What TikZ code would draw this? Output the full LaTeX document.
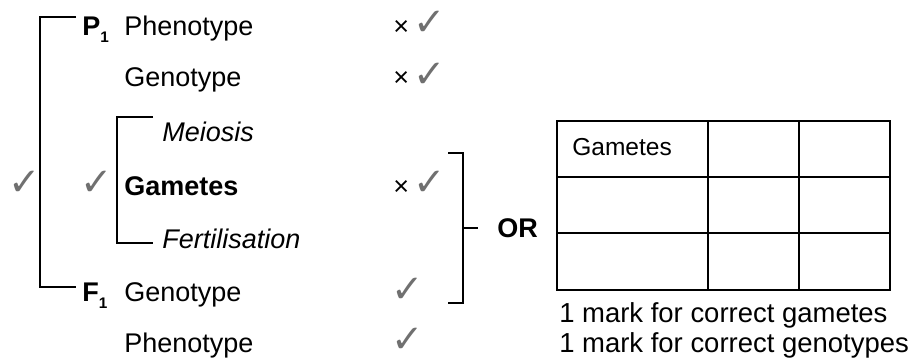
\documentclass[tikz,border=0pt]{standalone}
\usepackage{fontspec}
\setmainfont{Liberation Sans}
\newfontfamily\symfont{DejaVu Sans}
\definecolor{tickgray}{HTML}{707070}

\begin{document}
\begin{tikzpicture}[x=0.75pt,y=-0.75pt,
  lbl/.style={anchor=base west,inner sep=0pt,font=\fontsize{20.25}{24}\selectfont},
  tick/.style={anchor=base west,inner sep=0pt,text=tickgray,font=\symfont\fontsize{29}{32}\selectfont},
  cross/.style={anchor=base west,inner sep=0pt,font=\fontsize{20.25}{24}\selectfont},
  brk/.style={line width=0.9pt}]
\useasboundingbox (0,0) rectangle (917,360);
% generations and stages
\node[lbl] (p1) at (82,36) {\bfseries P\raisebox{-5.25pt}{\fontsize{11.5}{12}\selectfont 1}};
\node[lbl] (pphen) at (124,36) {Phenotype};
\node[lbl] (pgen) at (124,87) {Genotype};
\node[lbl] (meio) at (162,142) {\itshape Meiosis};
\node[lbl] (gam) at (124,195) {\bfseries Gametes};
\node[lbl] (fert) at (162,248) {\itshape Fertilisation};
\node[lbl] (f1) at (82,301) {\bfseries F\raisebox{-5.25pt}{\fontsize{11.5}{12}\selectfont 1}};
\node[lbl] (fgen) at (124,301) {Genotype};
\node[lbl] (fphen) at (124,352) {Phenotype};
% marks
\node[cross] (x1) at (393,36) {×};
\node[tick] (t1) at (413,36) {✓};
\node[cross] (x2) at (393,87) {×};
\node[tick] (t2) at (413,88) {✓};
\node[cross] (x3) at (393,195) {×};
\node[tick] (t3) at (413,195) {✓};
\node[tick] (t4) at (391,302) {✓};
\node[tick] (t5) at (391,352) {✓};
\node[tick] (tl) at (8,195) {✓};
\node[tick] (tm) at (80,195) {✓};
% brackets
\coordinate (oa) at (76,17);
\coordinate (ob) at (76,287);
\draw[brk] (oa) -- (40,17) -- (40,287) -- (ob);
\coordinate (ia) at (153,117);
\coordinate (ib) at (153,243);
\draw[brk] (ia) -- (117,117) -- (117,243) -- (ib);
\coordinate (ra) at (448,153);
\coordinate (rb) at (448,303);
\coordinate (rm) at (478,228);
\draw[brk] (ra) -- (463,153) -- (463,303) -- (rb);
\draw[brk] (463,228) -- (rm);
\node[lbl,anchor=west] (or) at (497,228) {\bfseries OR};
% punnett grid
\draw[brk] (557,121) rectangle (890,290);
\draw[brk] (708,121) -- (708,290);
\draw[brk] (799,121) -- (799,290);
\draw[brk] (557,177) -- (890,177);
\draw[brk] (557,233) -- (890,233);
\node[lbl,font=\fontsize{18.4}{22}\selectfont] (gcell) at (572,155) {Gametes};
\node[lbl,font=\fontsize{20.6}{24}\selectfont] (mk1) at (559,322) {1 mark for correct gametes};
\node[lbl,font=\fontsize{20.6}{24}\selectfont] (mk2) at (559,352) {1 mark for correct genotypes};
\end{tikzpicture}
\end{document}
